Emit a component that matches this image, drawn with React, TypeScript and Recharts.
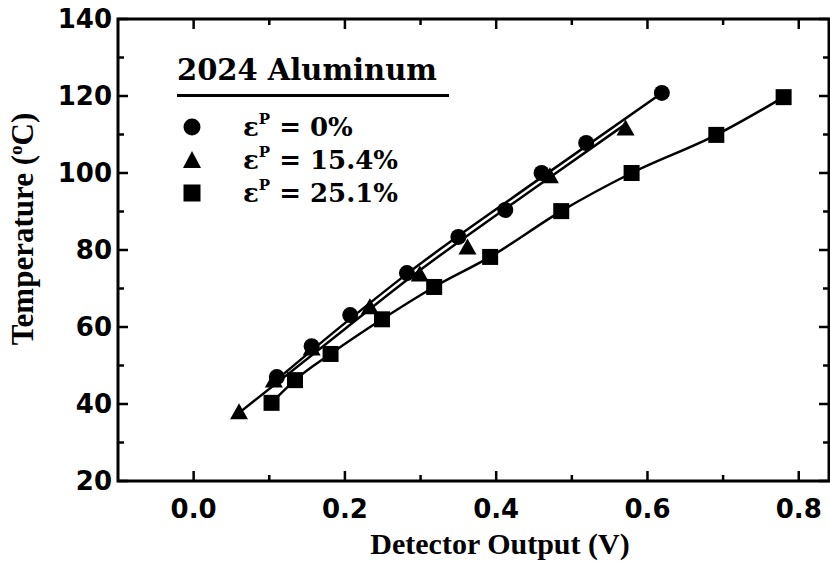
import React from 'react'
import { ComposedChart, Line, XAxis, YAxis, ReferenceArea } from 'recharts'

// values
const xTicks = [0, 0.1, 0.2, 0.3, 0.4, 0.5, 0.6, 0.7, 0.8]
const yTicks = [20, 30, 40, 50, 60, 70, 80, 90, 100, 110, 120, 130, 140]

// measured points
const circleX = [0.11, 0.156, 0.207, 0.282, 0.35, 0.412, 0.46, 0.519, 0.619]
const circleY = [47, 55, 63.1, 74, 83.4, 90.4, 100, 107.8, 120.8]

const triangleX = [0.06, 0.106, 0.156, 0.233, 0.299, 0.362, 0.471, 0.571]
const triangleY = [37.7, 46, 54.3, 65, 73.5, 80.5, 99, 111.4]

const squareX = [0.103, 0.134, 0.181, 0.249, 0.318, 0.392, 0.486, 0.579, 0.691, 0.78]
const squareY = [40.3, 46.2, 53, 62, 70.4, 78.2, 90.1, 100, 109.9, 119.7]

// the drawn fit curves
const circleFitX = [0.102, 0.2, 0.282, 0.45, 0.619]
const circleFitY = [45, 61, 73.8, 97.5, 120.8]

const triangleFitX = [0.06, 0.2, 0.282, 0.45, 0.571]
const triangleFitY = [37.7, 59.5, 72.2, 96, 112.7]

const legendTitle = '2024 Aluminum'
const legendLabels = ['0%', '15.4%', '25.1%']

const toPoints = (xs: number[], ys: number[]) => xs.map((x, i) => ({ x, y: ys[i] }))
const circlePts = toPoints(circleX, circleY)
const trianglePts = toPoints(triangleX, triangleY)
const squarePts = toPoints(squareX, squareY)
const circleFit = toPoints(circleFitX, circleFitY)
const triangleFit = toPoints(triangleFitX, triangleFitY)

const W = 830
const H = 563
const LEFT = 118
const RIGHT = 829
const TOP = 19
const BOTTOM = 481
const INK = '#000'

const tickFont = "'DejaVu Sans', sans-serif"
const titleFont = "'Liberation Serif', serif"
const legendFont = "'DejaVu Serif', serif"

function XTick({ x, payload }: any) {
  const v = payload.value as number
  const major = Math.round(v * 10) % 2 === 0
  const len = major ? 10 : 6
  return (
    <g>
      <line x1={x} x2={x} y1={BOTTOM} y2={BOTTOM - len} stroke={INK} strokeWidth={2.5} />
      <line x1={x} x2={x} y1={TOP} y2={TOP + len} stroke={INK} strokeWidth={2.5} />
      {major && (
        <text x={x} y={BOTTOM + 37} textAnchor="middle" fontFamily={tickFont} fontWeight="bold" fontSize={26} fill={INK}>
          {v.toFixed(1)}
        </text>
      )}
    </g>
  )
}

function YTick({ y, payload }: any) {
  const v = payload.value as number
  const major = v % 20 === 0
  const len = major ? 10 : 6
  return (
    <g>
      <line x1={LEFT} x2={LEFT + len} y1={y} y2={y} stroke={INK} strokeWidth={2.5} />
      <line x1={RIGHT} x2={RIGHT - len} y1={y} y2={y} stroke={INK} strokeWidth={2.5} />
      {major && (
        <text x={LEFT - 6} y={y} dy={9} textAnchor="end" fontFamily={tickFont} fontWeight="bold" fontSize={26} fill={INK}>
          {v}
        </text>
      )}
    </g>
  )
}

const CircleDot = (p: any) => <circle key={p.index} cx={p.cx} cy={p.cy} r={8} fill={INK} />
const TriangleDot = (p: any) => (
  <polygon key={p.index} points={`${p.cx},${p.cy - 9.5} ${p.cx - 9},${p.cy + 6.5} ${p.cx + 9},${p.cy + 6.5}`} fill={INK} />
)
const SquareDot = (p: any) => <rect key={p.index} x={p.cx - 8} y={p.cy - 8} width={16} height={16} fill={INK} />

function LegendMarker({ kind }: { kind: number }) {
  return (
    <svg width={18} height={18} viewBox="0 0 18 18" style={{ marginRight: 42 }}>
      {kind === 0 && <circle cx={9} cy={9} r={8.5} fill={INK} />}
      {kind === 1 && <polygon points="9,0 0,17 18,17" fill={INK} />}
      {kind === 2 && <rect x={0.5} y={0.5} width={17} height={17} fill={INK} />}
    </svg>
  )
}

export default function App() {
  return (
    <div style={{ position: 'absolute', left: 0, top: 0, width: W, height: H, background: '#fff' }}>
      <ComposedChart width={W} height={H} margin={{ top: TOP, right: W - RIGHT, bottom: 0, left: 0 }}>
        <XAxis
          type="number"
          dataKey="x"
          domain={[-0.1, 0.84]}
          ticks={xTicks}
          interval={0}
          allowDataOverflow
          axisLine={false}
          tickLine={false}
          height={H - BOTTOM}
          tick={<XTick />}
          label={{
            content: () => (
              <text x={500} y={554} textAnchor="middle" fontFamily={titleFont} fontWeight="bold" fontSize={30} fill={INK}>
                Detector Output (V)
              </text>
            ),
          }}
        />
        <YAxis
          type="number"
          domain={[20, 140]}
          ticks={yTicks}
          interval={0}
          allowDataOverflow
          axisLine={false}
          tickLine={false}
          width={LEFT}
          tick={<YTick />}
          label={{
            content: () => (
              <text transform="translate(33, 229) rotate(-90)" textAnchor="middle" fontFamily={titleFont} fontWeight="bold" fontSize={31} fill={INK}>
                Temperature (<tspan fontSize={19} dy={-11}>o</tspan><tspan dy={11}>C)</tspan>
              </text>
            ),
          }}
        />
        <ReferenceArea x1={-0.1} x2={0.84} y1={20} y2={140} fill="none" stroke={INK} strokeWidth={3} ifOverflow="visible" />
        <Line data={circleFit} dataKey="y" type="monotone" stroke={INK} strokeWidth={2.5} dot={false} activeDot={false} isAnimationActive={false} />
        <Line data={triangleFit} dataKey="y" type="monotone" stroke={INK} strokeWidth={2.5} dot={false} activeDot={false} isAnimationActive={false} />
        <Line data={squarePts} dataKey="y" type="monotone" stroke={INK} strokeWidth={2.5} dot={SquareDot} activeDot={false} isAnimationActive={false} />
        <Line data={circlePts} dataKey="y" stroke="none" dot={CircleDot} activeDot={false} isAnimationActive={false} />
        <Line data={trianglePts} dataKey="y" stroke="none" dot={TriangleDot} activeDot={false} isAnimationActive={false} />
      </ComposedChart>
      <div style={{ position: 'absolute', left: 177, top: 54, fontFamily: legendFont, fontWeight: 'bold', color: INK }}>
        <div style={{ fontSize: 29, lineHeight: '32px', borderBottom: '3px solid #000', paddingBottom: 8, width: 272, marginBottom: 13 }}>
          {legendTitle}
        </div>
        {legendLabels.map((lab, i) => (
          <div key={lab} style={{ display: 'flex', alignItems: 'center', height: 33, fontSize: 26, paddingLeft: 6 }}>
            <LegendMarker kind={i} />
            <span>
              ε<sup style={{ fontSize: 15, verticalAlign: 'top', position: 'relative', top: -2 }}>P</sup> = {lab}
            </span>
          </div>
        ))}
      </div>
    </div>
  )
}
